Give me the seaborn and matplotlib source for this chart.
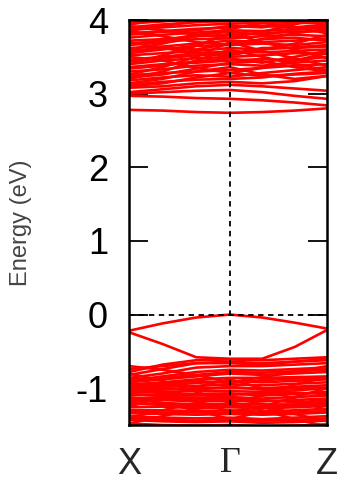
import numpy as np
import pandas as pd
import matplotlib
matplotlib.use("Agg")
import matplotlib.pyplot as plt
import seaborn as sns

# k-path positions (X ... Gamma ... Z)
kpath = [0.0, 0.17, 0.34, 0.51, 0.673, 0.837, 1.0]
tick_pos = [0.0, 0.51, 1.0]
tick_labels = ["X", "Γ", "Z"]
y_ticks = [-1, 0, 1, 2, 3, 4]

# conduction bands (eV) at the k-path points
conduction = [
    [2.78, 2.77, 2.75, 2.74, 2.75, 2.77, 2.80],
    [2.97, 2.96, 2.94, 2.93, 2.91, 2.88, 2.84],
    [3.00, 3.02, 3.04, 3.05, 3.02, 2.97, 2.93],
    [3.02, 3.06, 3.10, 3.12, 3.10, 3.07, 3.04],
    [3.08, 3.10, 3.14, 3.16, 3.14, 3.17, 3.24],
    [3.12, 3.16, 3.19, 3.20, 3.22, 3.27, 3.30],
    [3.18, 3.22, 3.25, 3.23, 3.28, 3.32, 3.36],
    [3.25, 3.28, 3.30, 3.32, 3.35, 3.38, 3.40],
    [3.30, 3.33, 3.38, 3.40, 3.38, 3.42, 3.45],
    [3.36, 3.40, 3.42, 3.45, 3.47, 3.45, 3.50],
    [3.40, 3.45, 3.48, 3.50, 3.52, 3.55, 3.54],
    [3.46, 3.50, 3.55, 3.57, 3.56, 3.58, 3.60],
    [3.52, 3.55, 3.58, 3.62, 3.60, 3.63, 3.66],
    [3.55, 3.60, 3.65, 3.66, 3.68, 3.66, 3.70],
    [3.62, 3.64, 3.68, 3.72, 3.70, 3.72, 3.75],
    [3.66, 3.70, 3.74, 3.75, 3.78, 3.80, 3.78],
    [3.72, 3.74, 3.78, 3.80, 3.82, 3.84, 3.85],
    [3.76, 3.80, 3.83, 3.86, 3.85, 3.88, 3.90],
    [3.82, 3.85, 3.88, 3.90, 3.92, 3.90, 3.94],
    [3.86, 3.90, 3.93, 3.95, 3.96, 3.97, 3.98],
    [3.90, 3.94, 3.97, 4.00, 4.02, 4.04, 4.02],
    [3.96, 3.98, 4.02, 4.05, 4.06, 4.08, 4.10],
    [3.20, 3.30, 3.45, 3.60, 3.50, 3.40, 3.32],
    [3.50, 3.45, 3.35, 3.28, 3.35, 3.45, 3.55],
    [3.70, 3.62, 3.55, 3.52, 3.60, 3.68, 3.80],
    [3.40, 3.52, 3.65, 3.82, 3.70, 3.60, 3.48],
    [3.85, 3.78, 3.70, 3.66, 3.74, 3.82, 3.88],
    [3.14, 3.20, 3.30, 3.36, 3.26, 3.20, 3.24],
    [3.92, 3.86, 3.80, 3.76, 3.84, 3.94, 4.05],
    [3.60, 3.68, 3.78, 3.88, 3.96, 3.90, 3.82],
    [3.10, 3.14, 3.22, 3.28, 3.24, 3.26, 3.28],
    [3.22, 3.26, 3.34, 3.42, 3.44, 3.36, 3.30],
    [3.34, 3.38, 3.44, 3.48, 3.42, 3.50, 3.58],
    [3.44, 3.48, 3.52, 3.54, 3.62, 3.62, 3.64],
    [3.58, 3.62, 3.60, 3.68, 3.74, 3.76, 3.72],
    [3.68, 3.72, 3.80, 3.84, 3.80, 3.86, 3.92],
    [3.80, 3.84, 3.86, 3.92, 3.90, 3.96, 3.96],
    [3.88, 3.92, 3.98, 3.98, 4.00, 4.00, 4.06],
    [3.94, 4.00, 4.04, 4.08, 4.04, 4.10, 4.12],
    [3.26, 3.36, 3.50, 3.70, 3.58, 3.48, 3.38],
]

# valence bands (eV) at the k-path points
valence = [
    [-0.22, -0.12, -0.04, 0.00, -0.04, -0.11, -0.19],
    [-0.24, -0.40, -0.58, -0.60, -0.60, -0.44, -0.21],
    [-0.78, -0.68, -0.62, -0.61, -0.62, -0.60, -0.58],
    [-0.82, -0.74, -0.66, -0.64, -0.66, -0.64, -0.62],
    [-0.86, -0.80, -0.72, -0.70, -0.70, -0.68, -0.66],
    [-0.90, -0.84, -0.78, -0.75, -0.76, -0.74, -0.72],
    [-0.92, -0.88, -0.84, -0.80, -0.82, -0.80, -0.78],
    [-0.95, -0.92, -0.88, -0.86, -0.86, -0.85, -0.84],
    [-0.98, -0.96, -0.93, -0.90, -0.92, -0.90, -0.88],
    [-1.00, -0.98, -0.97, -0.95, -0.96, -0.94, -0.92],
    [-1.02, -1.02, -1.00, -1.00, -1.00, -0.98, -0.96],
    [-1.06, -1.05, -1.04, -1.04, -1.05, -1.03, -1.00],
    [-1.10, -1.08, -1.08, -1.07, -1.10, -1.08, -1.05],
    [-1.14, -1.12, -1.13, -1.12, -1.14, -1.12, -1.10],
    [-1.18, -1.16, -1.18, -1.17, -1.18, -1.16, -1.14],
    [-1.22, -1.20, -1.22, -1.21, -1.22, -1.22, -1.20],
    [-1.26, -1.25, -1.27, -1.26, -1.27, -1.26, -1.24],
    [-1.30, -1.30, -1.31, -1.30, -1.32, -1.30, -1.28],
    [-1.34, -1.35, -1.36, -1.35, -1.36, -1.35, -1.33],
    [-1.38, -1.40, -1.41, -1.40, -1.42, -1.40, -1.38],
    [-1.43, -1.45, -1.46, -1.45, -1.47, -1.46, -1.44],
    [-1.48, -1.50, -1.51, -1.50, -1.52, -1.51, -1.49],
    [-1.55, -1.56, -1.56, -1.55, -1.58, -1.57, -1.55],
    [-0.80, -0.90, -1.05, -1.20, -1.10, -0.95, -0.85],
    [-1.25, -1.12, -0.98, -0.88, -1.00, -1.15, -1.30],
    [-0.95, -1.05, -1.18, -1.32, -1.25, -1.12, -1.00],
    [-1.40, -1.30, -1.20, -1.12, -1.22, -1.35, -1.45],
    [-0.70, -0.75, -0.82, -0.92, -0.85, -0.78, -0.70],
    [-1.12, -1.20, -1.30, -1.42, -1.32, -1.22, -1.15],
    [-1.48, -1.38, -1.28, -1.22, -1.30, -1.42, -1.52],
    [-0.74, -0.70, -0.66, -0.66, -0.68, -0.64, -0.60],
    [-0.88, -0.86, -0.82, -0.78, -0.79, -0.77, -0.75],
    [-0.96, -0.94, -0.90, -0.93, -0.89, -0.87, -0.86],
    [-1.04, -1.00, -1.02, -0.98, -1.02, -1.00, -0.99],
    [-1.08, -1.10, -1.10, -1.09, -1.07, -1.06, -1.08],
    [-1.16, -1.14, -1.15, -1.15, -1.16, -1.19, -1.17],
    [-1.20, -1.23, -1.24, -1.24, -1.25, -1.24, -1.22],
    [-1.32, -1.33, -1.33, -1.33, -1.34, -1.33, -1.31],
    [-1.40, -1.43, -1.44, -1.43, -1.44, -1.43, -1.41],
    [-1.52, -1.54, -1.54, -1.53, -1.55, -1.54, -1.52],
    [-1.58, -1.60, -1.60, -1.59, -1.61, -1.60, -1.58],
]

rows = []
for i, band in enumerate(conduction + valence):
    for k, e in zip(kpath, band):
        rows.append({"band": i, "k": k, "E": e})
df = pd.DataFrame(rows)

sns.set_style("white")
plt.rcParams["font.family"] = ["Liberation Sans", "DejaVu Sans"]

fig = plt.figure(figsize=(3.41, 4.79), dpi=100)
ax = fig.add_axes([0.378, 0.1127, 0.581, 0.8455])

sns.lineplot(data=df, x="k", y="E", units="band", estimator=None, sort=False,
             color="#ff0000", linewidth=1.9, ax=ax, legend=False)

ax.axvline(tick_pos[1], color="black", lw=1.3, ls=(0, (3, 2.5)), zorder=3)
ax.axhline(0, color="black", lw=1.3, ls=(0, (3, 2.5)), zorder=3)

ax.set_xlim(0, 1)
ax.set_ylim(-1.5, 4)
ax.set_yticks(y_ticks)
ax.set_yticklabels([str(t) for t in y_ticks], fontsize=26)
ax.set_xticks(tick_pos)
ax.set_xticklabels(tick_labels, fontsize=26)
for lab in ax.get_xticklabels():
    if lab.get_text() == "Γ":
        lab.set_family(["Liberation Serif", "DejaVu Serif"])
ax.tick_params(axis="y", direction="in", length=14, width=1.3, left=True,
               right=True, pad=15, colors="black")
ax.tick_params(axis="x", length=0, pad=16)
for s in ax.spines.values():
    s.set_linewidth(1.8)
    s.set_color("black")
    s.set_zorder(4)

ax.set_xlabel("")
ax.set_ylabel("Energy (eV)", fontsize=17, color="#444444")
ax.yaxis.set_label_coords(-0.49, 0.5)

fig.savefig("out.png", dpi=100)
